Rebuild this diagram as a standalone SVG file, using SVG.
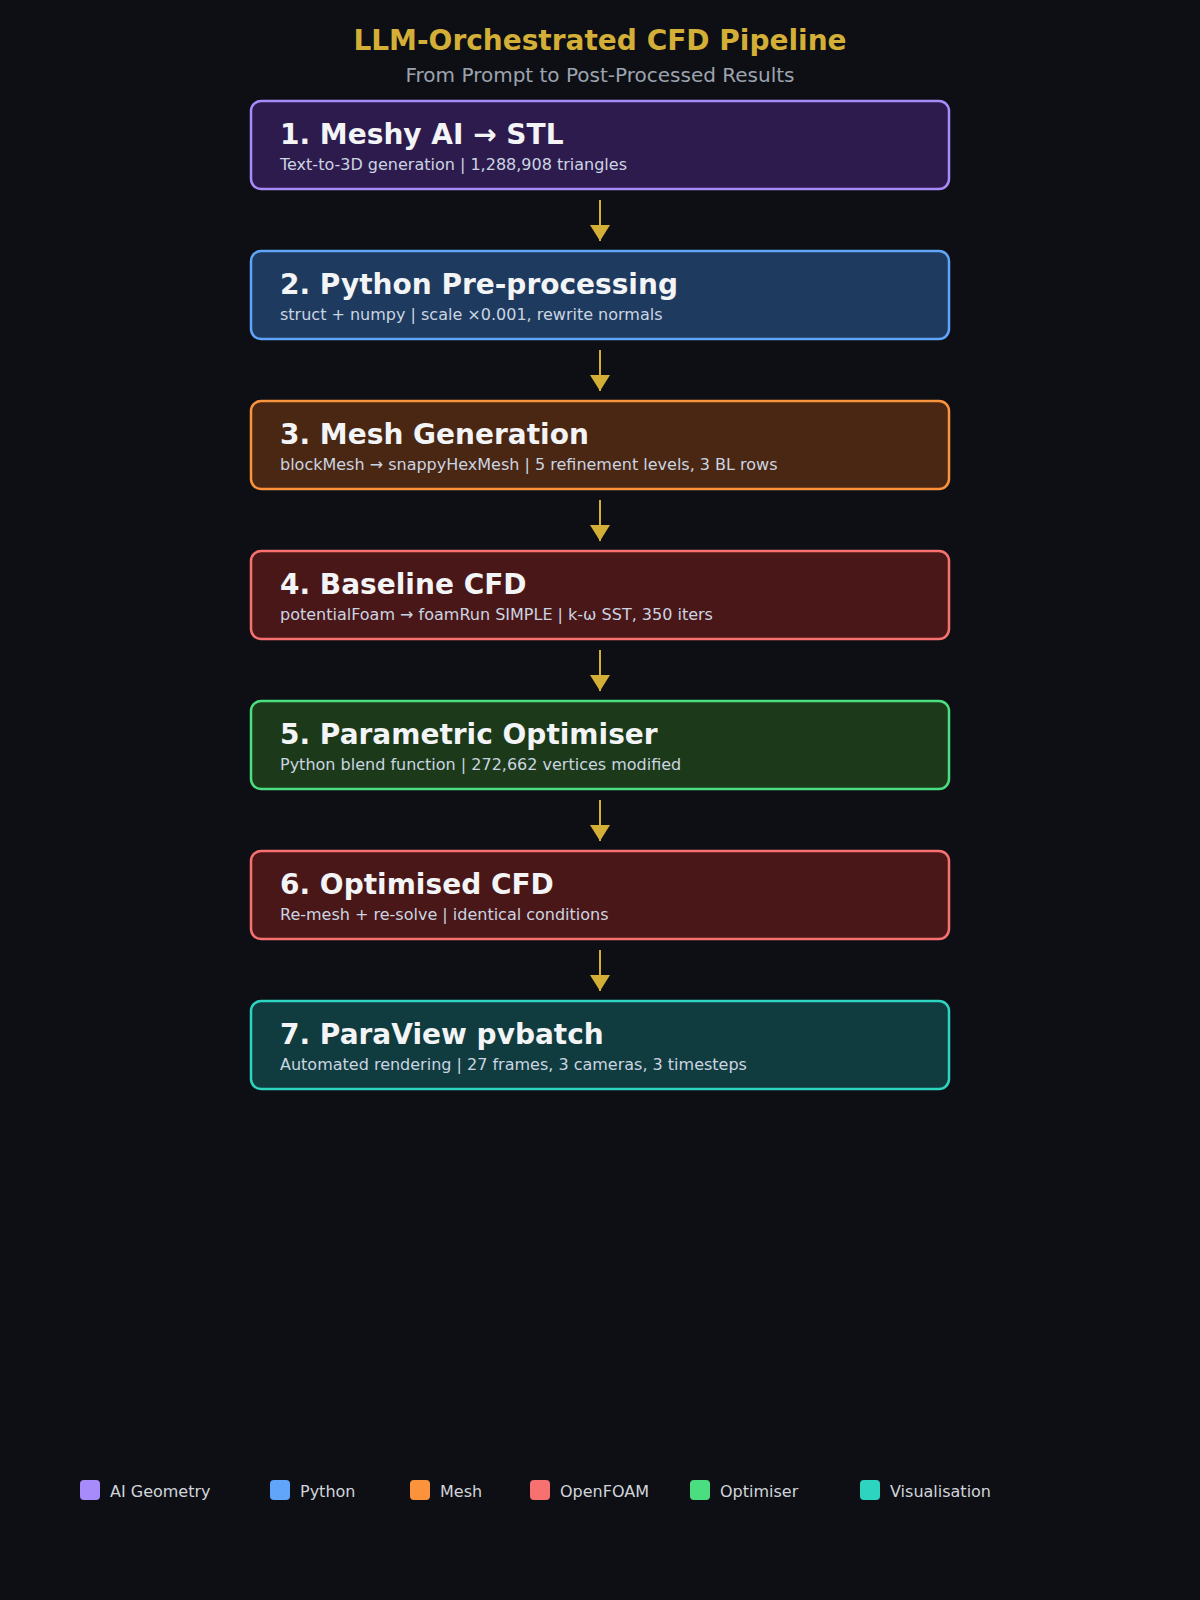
<svg xmlns="http://www.w3.org/2000/svg" width="1200" height="1600" viewBox="0 0 1200 1600">
<style>
.bg{fill:#0d0f14}
.h1{font-family:"DejaVu Sans",sans-serif;font-weight:bold;font-size:28px;fill:#d4af37;text-anchor:middle}
.h2{font-family:"DejaVu Sans",sans-serif;font-size:20px;fill:#9ca3af;text-anchor:middle}
.box{stroke-width:2.5}
.t{font-family:"DejaVu Sans",sans-serif;font-weight:bold;font-size:28px;fill:#f3f4f6}
.s{font-family:"DejaVu Sans",sans-serif;font-size:16px;fill:#cbd5e1}
.c{stroke:#d4af37;stroke-width:2;fill:none}
.lg{font-family:"DejaVu Sans",sans-serif;font-size:16px;fill:#d1d5db}
</style>
<defs>
<marker id="ah" viewBox="0 0 16 20" refX="16" refY="10" markerWidth="16" markerHeight="20" markerUnits="userSpaceOnUse" orient="auto">
<path d="M0,0 L16,10 L0,20 Z" fill="#d4af37"/>
</marker>
</defs>
<rect class="bg" x="0" y="0" width="1200" height="1600"/>
<text class="h1" x="600" y="50">LLM-Orchestrated CFD Pipeline</text>
<text class="h2" x="600" y="82">From Prompt to Post-Processed Results</text>

<g id="connectors">
<line class="c" x1="600" y1="200" x2="600" y2="241" marker-end="url(#ah)"/>
<line class="c" x1="600" y1="350" x2="600" y2="391" marker-end="url(#ah)"/>
<line class="c" x1="600" y1="500" x2="600" y2="541" marker-end="url(#ah)"/>
<line class="c" x1="600" y1="650" x2="600" y2="691" marker-end="url(#ah)"/>
<line class="c" x1="600" y1="800" x2="600" y2="841" marker-end="url(#ah)"/>
<line class="c" x1="600" y1="950" x2="600" y2="991" marker-end="url(#ah)"/>
</g>

<g id="n1">
<rect class="box" x="251" y="101" width="698" height="88" rx="10" fill="#2e1b4e" stroke="#a78bfa"/>
<text class="t" x="280" y="144">1. Meshy AI → STL</text>
<text class="s" x="280" y="170">Text-to-3D generation | 1,288,908 triangles</text>
</g>
<g id="n2">
<rect class="box" x="251" y="251" width="698" height="88" rx="10" fill="#1e3a5f" stroke="#60a5fa"/>
<text class="t" x="280" y="294">2. Python Pre-processing</text>
<text class="s" x="280" y="320">struct + numpy | scale ×0.001, rewrite normals</text>
</g>
<g id="n3">
<rect class="box" x="251" y="401" width="698" height="88" rx="10" fill="#4a2713" stroke="#fb923c"/>
<text class="t" x="280" y="444">3. Mesh Generation</text>
<text class="s" x="280" y="470">blockMesh → snappyHexMesh | 5 refinement levels, 3 BL rows</text>
</g>
<g id="n4">
<rect class="box" x="251" y="551" width="698" height="88" rx="10" fill="#4a1718" stroke="#f87171"/>
<text class="t" x="280" y="594">4. Baseline CFD</text>
<text class="s" x="280" y="620">potentialFoam → foamRun SIMPLE | k-ω SST, 350 iters</text>
</g>
<g id="n5">
<rect class="box" x="251" y="701" width="698" height="88" rx="10" fill="#1c3a1a" stroke="#4ade80"/>
<text class="t" x="280" y="744">5. Parametric Optimiser</text>
<text class="s" x="280" y="770">Python blend function | 272,662 vertices modified</text>
</g>
<g id="n6">
<rect class="box" x="251" y="851" width="698" height="88" rx="10" fill="#4a1718" stroke="#f87171"/>
<text class="t" x="280" y="894">6. Optimised CFD</text>
<text class="s" x="280" y="920">Re-mesh + re-solve | identical conditions</text>
</g>
<g id="n7">
<rect class="box" x="251" y="1001" width="698" height="88" rx="10" fill="#103c3f" stroke="#2dd4bf"/>
<text class="t" x="280" y="1044">7. ParaView pvbatch</text>
<text class="s" x="280" y="1070">Automated rendering | 27 frames, 3 cameras, 3 timesteps</text>
</g>

<g id="legend">
<rect x="80" y="1480" width="20" height="20" rx="4" fill="#a78bfa"/>
<text class="lg" x="110" y="1497">AI Geometry</text>
<rect x="270" y="1480" width="20" height="20" rx="4" fill="#60a5fa"/>
<text class="lg" x="300" y="1497">Python</text>
<rect x="410" y="1480" width="20" height="20" rx="4" fill="#fb923c"/>
<text class="lg" x="440" y="1497">Mesh</text>
<rect x="530" y="1480" width="20" height="20" rx="4" fill="#f87171"/>
<text class="lg" x="560" y="1497">OpenFOAM</text>
<rect x="690" y="1480" width="20" height="20" rx="4" fill="#4ade80"/>
<text class="lg" x="720" y="1497">Optimiser</text>
<rect x="860" y="1480" width="20" height="20" rx="4" fill="#2dd4bf"/>
<text class="lg" x="890" y="1497">Visualisation</text>
</g>
</svg>
